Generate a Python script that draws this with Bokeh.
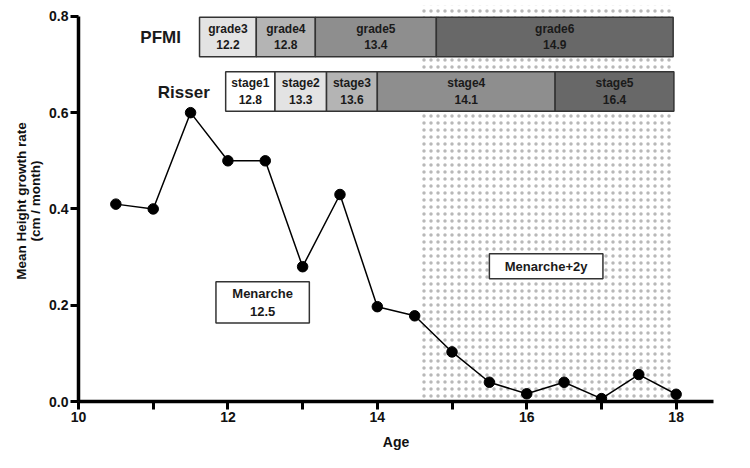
from bokeh.plotting import figure
from bokeh.models import Range1d, FixedTicker, NumeralTickFormatter, ColumnDataSource
from bokeh.core.properties import value
from bokeh.embed import file_html
from bokeh.resources import INLINE

# ---- data ----
age = [10.5, 11, 11.5, 12, 12.5, 13, 13.5, 14, 14.5, 15, 15.5, 16, 16.5, 17, 17.5, 18]
rate = [0.41, 0.40, 0.60, 0.50, 0.50, 0.28, 0.43, 0.197, 0.178, 0.103, 0.04, 0.016, 0.04, 0.006, 0.056, 0.015]

pfmi_names = ["grade3", "grade4", "grade5", "grade6"]
pfmi_ages = ["12.2", "12.8", "13.4", "14.9"]
pfmi_left = [11.62, 12.38, 13.17, 14.79]
pfmi_right = [12.38, 13.17, 14.79, 17.96]

risser_names = ["stage1", "stage2", "stage3", "stage4", "stage5"]
risser_ages = ["12.8", "13.3", "13.6", "14.1", "16.4"]
risser_left = [11.97, 12.63, 13.32, 14.0, 16.38]
risser_right = [12.63, 13.32, 14.0, 16.38, 17.97]

shade_start, shade_end, shade_top = 14.56, 17.97, 0.822

x_major = [10, 12, 14, 16, 18]
x_minor = [11, 13, 15, 17]
y_ticks = [0.0, 0.2, 0.4, 0.6, 0.8]

# ---- styles ----
FONT = "Liberation Sans"
TXT = "#1a1a1a"
pfmi_colors = ["#e3e3e3", "#b4b4b4", "#8e8e8e", "#686868"]
risser_colors = ["#ffffff", "#e3e3e3", "#b4b4b4", "#8e8e8e", "#686868"]
pfmi_row = (0.716, 0.798)
risser_row = (0.603, 0.685)

p = figure(width=734, height=452, output_backend="svg", toolbar_location=None,
           x_range=Range1d(10, 18.5), y_range=Range1d(0, 0.833),
           min_border_left=78, min_border_right=21, min_border_top=0, min_border_bottom=47)
p.outline_line_color = None
p.xgrid.visible = False
p.ygrid.visible = False
p.background_fill_color = "white"

# shaded region (Menarche + 2y onward)
p.quad(left=[shade_start], right=[shade_end], bottom=[0], top=[shade_top],
       fill_color=None, line_color=None, hatch_pattern=".", hatch_color="#b8b8b8",
       hatch_scale=7, hatch_weight=0.8)

# PFMI bars
src_p = ColumnDataSource(dict(left=pfmi_left, right=pfmi_right, color=pfmi_colors,
                              xc=[(a + b) / 2 for a, b in zip(pfmi_left, pfmi_right)],
                              txt=[f"{n}\n{a}" for n, a in zip(pfmi_names, pfmi_ages)]))
p.quad(left="left", right="right", bottom=pfmi_row[0], top=pfmi_row[1], fill_color="color",
       line_color="#333333", line_width=1.5, source=src_p)
p.text(x="xc", y=(pfmi_row[0] + pfmi_row[1]) / 2, text="txt", source=src_p,
       text_align="center", text_baseline="middle", text_font=value(FONT),
       text_font_style="bold", text_font_size="12px", text_color=TXT, text_line_height=1.15)

# Risser bars
src_r = ColumnDataSource(dict(left=risser_left, right=risser_right, color=risser_colors,
                              xc=[(a + b) / 2 for a, b in zip(risser_left, risser_right)],
                              txt=[f"{n}\n{a}" for n, a in zip(risser_names, risser_ages)]))
p.quad(left="left", right="right", bottom=risser_row[0], top=risser_row[1], fill_color="color",
       line_color="#333333", line_width=1.5, source=src_r)
p.text(x="xc", y=(risser_row[0] + risser_row[1]) / 2, text="txt", source=src_r,
       text_align="center", text_baseline="middle", text_font=value(FONT),
       text_font_style="bold", text_font_size="12px", text_color=TXT, text_line_height=1.15)

# row titles
p.text(x=[11.10, 11.41], y=[(pfmi_row[0] + pfmi_row[1]) / 2, (risser_row[0] + risser_row[1]) / 2 - 0.003],
       text=["PFMI", "Risser"], text_align="center", text_baseline="middle",
       text_font=value(FONT), text_font_style="bold", text_font_size="17px", text_color=TXT)

# annotation boxes
p.quad(left=[11.84], right=[13.09], bottom=[0.163], top=[0.249], fill_color="white",
       line_color="#333333", line_width=1.5)
p.text(x=[12.465], y=[0.206], text=["Menarche\n12.5"], text_align="center", text_baseline="middle",
       text_font=value(FONT), text_font_style="bold", text_font_size="13px", text_color=TXT,
       text_line_height=1.2)
p.quad(left=[15.50], right=[17.02], bottom=[0.255], top=[0.307], fill_color="white",
       line_color="#333333", line_width=1.5)
p.text(x=[16.26], y=[0.281], text=["Menarche+2y"], text_align="center", text_baseline="middle",
       text_font=value(FONT), text_font_style="bold", text_font_size="13px", text_color=TXT)

# data
p.line(age, rate, line_color="black", line_width=1.5)
p.scatter(age, rate, size=10.5, fill_color="black", line_color="black")

# axes
xa = p.xaxis[0]
xa.ticker = FixedTicker(ticks=x_major, minor_ticks=x_minor)
xa.axis_label = "Age"
ya = p.yaxis[0]
ya.ticker = FixedTicker(ticks=y_ticks)
ya.formatter = NumeralTickFormatter(format="0.0")
ya.bounds = (0, 0.8)
ya.axis_label = "Mean Height growth rate\n(cm / month)"
for ax in (xa, ya):
    ax.axis_line_width = 3.5
    ax.axis_line_color = "black"
    ax.major_tick_line_width = 3
    ax.minor_tick_line_width = 3
    ax.major_tick_out = 8
    ax.major_tick_in = 0
    ax.minor_tick_out = 8
    ax.minor_tick_in = 0
    ax.major_label_text_font = FONT
    ax.major_label_text_font_style = "bold"
    ax.major_label_text_font_size = "14px"
    ax.major_label_text_color = "#111111"
    ax.axis_label_text_font = FONT
    ax.axis_label_text_font_style = "bold"
    ax.axis_label_text_font_size = "14px"
    ax.axis_label_text_color = "#111111"
ya.minor_tick_line_color = None
ya.major_label_standoff = 2
xa.major_label_standoff = 2
xa.axis_label_standoff = 9
ya.axis_label_standoff = 3
ya.axis_label_text_font_size = "13.5px"
ya.axis_label_text_line_height = 0.95

open("out.html", "w").write(file_html(p, INLINE))
